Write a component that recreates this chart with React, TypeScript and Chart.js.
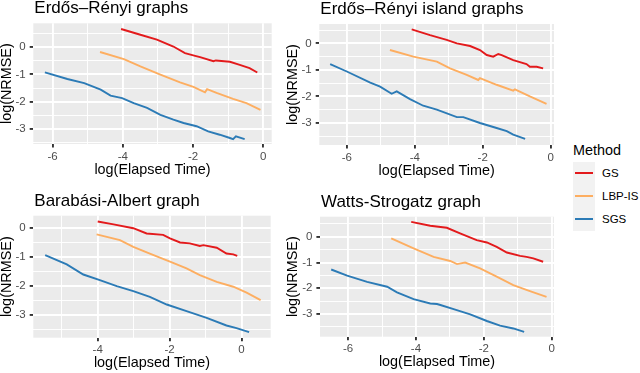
import React, { useEffect, useRef } from "react";
import { Chart, registerables } from "chart.js";
Chart.register(...registerables);

const FONT = "'Liberation Sans', Arial, Helvetica, sans-serif";

const methods = ["GS", "LBP-IS", "SGS"];
const methodColors = ["#E31A1C", "#FDAE61", "#2C7BB6"];

const xMajorTicks = [-6, -4, -2, 0];
const xMinorTicks = [-7, -5, -3, -1, 1];
const yMajorTicks = [0, -1, -2, -3];
const yMinorTicks = [0.5, -0.5, -1.5, -2.5, -3.5];

const xAxisTitle = "log(Elapsed Time)";
const yAxisTitle = "log(NRMSE)";
const legendTitle = "Method";

// Erdős–Rényi graphs
const erGS = [[-4.05,0.66],[-3.5,0.45],[-3.03,0.27],[-2.56,0.02],[-2.23,-0.22],[-1.94,-0.32],[-1.8,-0.37],[-1.42,-0.52],[-1.35,-0.49],[-0.95,-0.54],[-0.67,-0.65],[-0.39,-0.77],[-0.17,-0.93]];
const erLBP = [[-4.65,-0.18],[-3.97,-0.44],[-3.5,-0.71],[-2.93,-1.01],[-2.37,-1.29],[-1.99,-1.46],[-1.66,-1.66],[-1.6,-1.54],[-1.33,-1.68],[-0.86,-1.9],[-0.48,-2.05],[-0.08,-2.3]];
const erSGS = [[-6.22,-0.93],[-5.58,-1.17],[-5.1,-1.32],[-4.63,-1.56],[-4.35,-1.78],[-4.02,-1.87],[-3.69,-2.05],[-3.31,-2.23],[-2.93,-2.48],[-2.56,-2.66],[-2.27,-2.78],[-1.9,-2.9],[-1.57,-3.09],[-1.24,-3.21],[-0.95,-3.33],[-0.86,-3.37],[-0.78,-3.27],[-0.53,-3.37]];

// Erdős–Rényi island graphs
const eriGS = [[-4.09,0.53],[-3.55,0.31],[-3.06,0.13],[-2.76,0.0],[-2.37,-0.1],[-2.08,-0.25],[-1.88,-0.44],[-1.69,-0.5],[-1.54,-0.4],[-1.44,-0.44],[-1.1,-0.63],[-0.71,-0.78],[-0.61,-0.88],[-0.41,-0.88],[-0.22,-0.94]];
const eriLBP = [[-4.73,-0.25],[-4.04,-0.5],[-3.35,-0.69],[-2.96,-0.94],[-2.47,-1.19],[-2.13,-1.38],[-2.08,-1.31],[-1.59,-1.56],[-1.1,-1.78],[-1.05,-1.73],[-0.61,-2.0],[-0.12,-2.28]];
const eriSGS = [[-6.49,-0.78],[-6.0,-1.06],[-5.31,-1.48],[-5.02,-1.63],[-4.68,-1.9],[-4.53,-1.81],[-4.14,-2.1],[-3.75,-2.35],[-3.35,-2.5],[-2.76,-2.78],[-2.57,-2.78],[-2.08,-3.0],[-1.59,-3.19],[-1.29,-3.31],[-1.1,-3.44],[-0.75,-3.6]];

// Barabási-Albert graph
const baGS = [[-4.0,0.21],[-3.56,0.11],[-3.01,-0.02],[-2.64,-0.2],[-2.18,-0.25],[-1.99,-0.37],[-1.71,-0.51],[-1.44,-0.54],[-1.16,-0.63],[-1.06,-0.6],[-0.69,-0.69],[-0.42,-0.89],[-0.23,-0.92],[-0.12,-0.97]];
const baLBP = [[-4.03,-0.23],[-3.38,-0.43],[-3.01,-0.66],[-2.55,-0.89],[-1.99,-1.17],[-1.53,-1.4],[-1.16,-1.63],[-0.69,-1.86],[-0.23,-2.03],[0.14,-2.23],[0.53,-2.49]];
const baSGS = [[-5.46,-0.94],[-4.86,-1.26],[-4.4,-1.61],[-3.94,-1.8],[-3.47,-2.01],[-3.01,-2.18],[-2.55,-2.38],[-2.08,-2.64],[-1.53,-2.87],[-0.97,-3.1],[-0.42,-3.36],[-0.14,-3.45],[0.21,-3.59]];

// Watts-Strogatz graph
const wsGS = [[-4.14,0.58],[-3.58,0.43],[-3.09,0.35],[-2.7,0.13],[-2.21,-0.13],[-1.91,-0.22],[-1.62,-0.39],[-1.32,-0.61],[-0.93,-0.74],[-0.74,-0.78],[-0.54,-0.84],[-0.25,-0.97]];
const wsLBP = [[-4.73,-0.06],[-4.07,-0.45],[-3.48,-0.78],[-2.99,-0.94],[-2.79,-1.06],[-2.55,-1.0],[-2.11,-1.23],[-1.62,-1.55],[-1.13,-1.88],[-0.64,-2.11],[-0.15,-2.33]];
const wsSGS = [[-6.5,-1.27],[-6.03,-1.51],[-5.44,-1.75],[-4.85,-1.94],[-4.56,-2.16],[-4.07,-2.42],[-3.58,-2.59],[-3.38,-2.61],[-3.28,-2.65],[-2.89,-2.81],[-2.4,-3.01],[-1.91,-3.27],[-1.52,-3.45],[-1.13,-3.56],[-0.81,-3.69]];

const panelTitles = ["Erdős–Rényi graphs", "Erdős–Rényi island graphs", "Barabási-Albert graph", "Watts-Strogatz graph"];
const panelSeries = [[erGS, erLBP, erSGS], [eriGS, eriLBP, eriSGS], [baGS, baLBP, baSGS], [wsGS, wsLBP, wsSGS]];
const panelXRange = [[-6.55, 0.24], [-6.81, 0.1], [-5.79, 0.81], [-6.83, 0.07]];
const panelYRange = [[-3.55, 0.87], [-3.83, 0.73], [-3.78, 0.41], [-3.88, 0.78]];

// layout: canvas box and chart area (local coords)
const panelBoxes = [
  { left: 0, top: 0, w: 280, h: 185, l: 33.3, r: 271.7, t: 23.3, b: 144 },
  { left: 286, top: 0, w: 274, h: 185, l: 33.3, r: 268, t: 24, b: 145 },
  { left: 0, top: 185, w: 280, h: 188, l: 33.3, r: 270.7, t: 30.7, b: 152.7 },
  { left: 286, top: 185, w: 274, h: 188, l: 34, r: 268, t: 31.7, b: 151.7 },
];

const X_TITLE_SIZE = 14.4;
const X_TITLE_LH = 1.2;
const X_TITLE_OFFSET = 25.6; // center of x title below panel bottom

const bgPlugin = {
  id: "panelBg",
  beforeDraw(chart: any) {
    const a = chart.chartArea;
    const ctx = chart.ctx;
    ctx.save();
    ctx.fillStyle = "#EBEBEB";
    ctx.fillRect(a.left, a.top, a.right - a.left, a.bottom - a.top);
    ctx.restore();
  },
};

function titlePlugin(text: string) {
  return {
    id: "panelTitle",
    afterDraw(chart: any) {
      const a = chart.chartArea;
      const ctx = chart.ctx;
      ctx.save();
      ctx.font = `17px ${FONT}`;
      ctx.fillStyle = "#000000";
      ctx.textAlign = "left";
      ctx.textBaseline = "alphabetic";
      ctx.fillText(text, a.left + 1, a.top - 10);
      ctx.restore();
    },
  };
}

function Panel({ idx }: { idx: number }) {
  const ref = useRef<HTMLCanvasElement | null>(null);
  const box = panelBoxes[idx];
  useEffect(() => {
    if (!ref.current) return;
    const [xMin, xMax] = panelXRange[idx];
    const [yMin, yMax] = panelYRange[idx];
    const xTicks = [...xMajorTicks, ...xMinorTicks].filter((v) => v >= xMin && v <= xMax).sort((a, b) => a - b);
    const yTicks = [...yMajorTicks, ...yMinorTicks].filter((v) => v >= yMin && v <= yMax).sort((a, b) => a - b);
    const isXMajor = (c: any) => c.tick && xMajorTicks.includes(c.tick.value);
    const isYMajor = (c: any) => c.tick && yMajorTicks.includes(c.tick.value);
    const xAxisH = box.h - box.b;
    const titlePadBottom = Math.max(0, xAxisH - X_TITLE_OFFSET - (X_TITLE_SIZE * X_TITLE_LH) / 2);
    const chart = new Chart(ref.current, {
      type: "line",
      data: {
        datasets: panelSeries[idx].map((s, i) => ({
          label: methods[i],
          data: s.map(([x, y]) => ({ x, y })),
          borderColor: methodColors[i],
          backgroundColor: methodColors[i],
          borderWidth: 1.9,
          pointRadius: 0,
          fill: false,
          tension: 0,
        })),
      },
      options: {
        animation: false,
        responsive: false,
        events: [],
        layout: { padding: { top: box.t, right: box.w - box.r, left: 0, bottom: 0 } },
        plugins: { legend: { display: false }, tooltip: { enabled: false }, title: { display: false } },
        scales: {
          x: {
            type: "linear",
            min: xMin,
            max: xMax,
            border: { display: false },
            grid: {
              color: "#FFFFFF",
              lineWidth: (c: any) => (isXMajor(c) ? 1.9 : 0.95),
              drawTicks: true,
              tickLength: 3.6,
              tickWidth: (c: any) => (isXMajor(c) ? 1.9 : 0.95),
              tickColor: (c: any) => (isXMajor(c) ? "#333333" : "rgba(0,0,0,0)"),
            },
            ticks: {
              autoSkip: false,
              maxRotation: 0,
              padding: 2,
              color: "#4D4D4D",
              font: { family: FONT, size: 11.5 },
              callback: (v: any) => (xMajorTicks.includes(v) ? String(v) : ""),
            },
            title: {
              display: true,
              text: xAxisTitle,
              color: "#000000",
              font: { family: FONT, size: X_TITLE_SIZE, lineHeight: X_TITLE_LH },
              padding: { top: 0, bottom: titlePadBottom },
            },
            afterBuildTicks: (axis: any) => {
              axis.ticks = xTicks.map((v) => ({ value: v }));
            },
            afterFit: (s: any) => {
              s.height = xAxisH;
              s.paddingLeft = 0;
              s.paddingRight = 0;
            },
          },
          y: {
            type: "linear",
            min: yMin,
            max: yMax,
            border: { display: false },
            grid: {
              color: "#FFFFFF",
              lineWidth: (c: any) => (isYMajor(c) ? 1.9 : 0.95),
              drawTicks: true,
              tickLength: 3.6,
              tickWidth: (c: any) => (isYMajor(c) ? 1.9 : 0.95),
              tickColor: (c: any) => (isYMajor(c) ? "#333333" : "rgba(0,0,0,0)"),
            },
            ticks: {
              autoSkip: false,
              padding: 4,
              color: "#4D4D4D",
              font: { family: FONT, size: 11.5 },
              callback: (v: any) => (yMajorTicks.includes(v) ? String(v) : ""),
            },
            title: {
              display: true,
              text: yAxisTitle,
              color: "#000000",
              font: { family: FONT, size: 14.4, lineHeight: 1.0 },
              padding: { top: 0, bottom: 0 },
            },
            afterBuildTicks: (axis: any) => {
              axis.ticks = yTicks.map((v) => ({ value: v }));
            },
            afterFit: (s: any) => {
              s.width = box.l;
              s.paddingTop = 0;
              s.paddingBottom = 0;
            },
          },
        },
      } as any,
      plugins: [bgPlugin, titlePlugin(panelTitles[idx])],
    });
    return () => chart.destroy();
  }, [idx]);
  return (
    <canvas
      ref={ref}
      width={box.w}
      height={box.h}
      style={{ position: "absolute", left: box.left, top: box.top, width: box.w, height: box.h }}
    />
  );
}

export default function App() {
  return (
    <div style={{ position: "fixed", left: 0, top: 0, width: 640, height: 373, background: "#FFFFFF", overflow: "hidden", fontFamily: FONT }}>
      {[0, 1, 2, 3].map((i) => (
        <Panel key={i} idx={i} />
      ))}
      <div style={{ position: "absolute", left: 573, top: 141, fontSize: 14.4, lineHeight: "18px", color: "#000" }}>{legendTitle}</div>
      <div style={{ position: "absolute", left: 573, top: 161.7, width: 22, height: 69, background: "#F2F2F2" }} />
      {methods.map((m, i) => (
        <React.Fragment key={m}>
          <div
            style={{
              position: "absolute",
              left: 575,
              top: 173.2 + 23 * i - 0.95,
              width: 18,
              height: 1.9,
              background: methodColors[i],
            }}
          />
          <div
            style={{
              position: "absolute",
              left: 602,
              top: 173.2 + 23 * i - 7,
              fontSize: 11.5,
              lineHeight: "14px",
              color: "#000",
              whiteSpace: "nowrap",
            }}
          >
            {m}
          </div>
        </React.Fragment>
      ))}
    </div>
  );
}
